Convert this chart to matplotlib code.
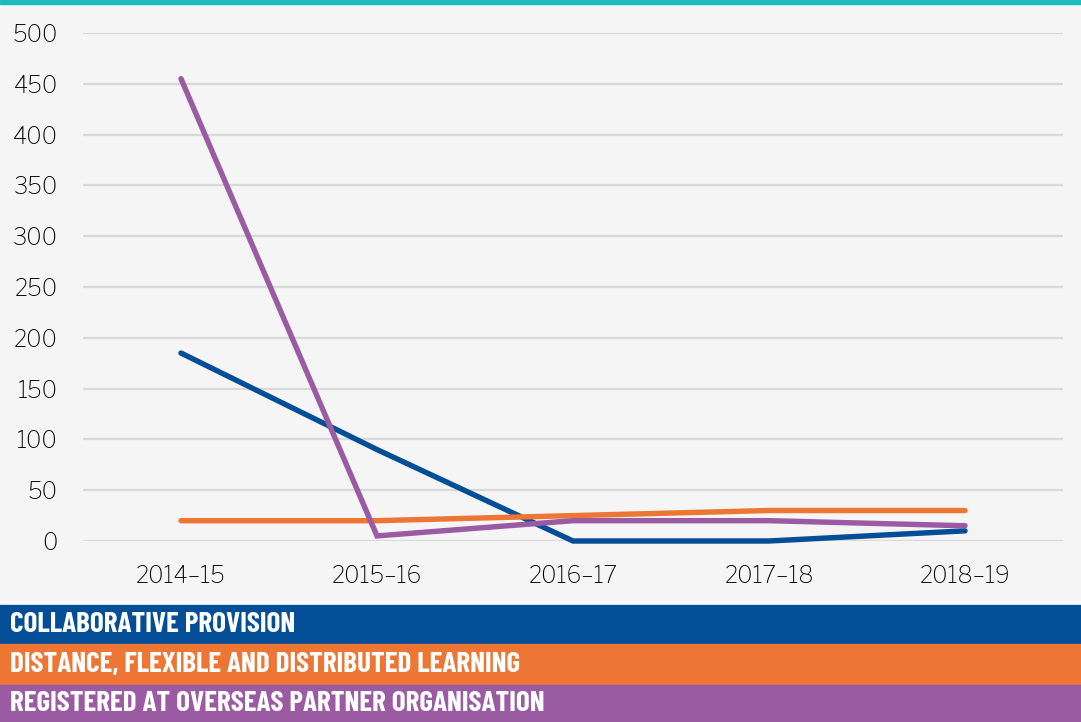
import matplotlib.pyplot as plt
from matplotlib.patches import Rectangle

years = ['2014–15', '2015–16', '2016–17', '2017–18', '2018–19']
collaborative = [185, 90, 0, 0, 10]
distance = [20, 20, 25, 30, 30]
overseas = [455, 5, 20, 20, 15]

series_names = ['COLLABORATIVE PROVISION',
                'DISTANCE, FLEXIBLE AND DISTRIBUTED LEARNING',
                'REGISTERED AT OVERSEAS PARTNER ORGANISATION']
colors = ['#034e96', '#ee7634', '#9b5ba3']

W, H = 1081, 722
fig = plt.figure(figsize=(W / 100, H / 100), dpi=100)
fig.patch.set_facecolor('white')

# background panels in pixel terms
def px_rect(x0, y0, x1, y1, color):
    fig.patches.append(Rectangle((x0 / W, 1 - y1 / H), (x1 - x0) / W, (y1 - y0) / H,
                                 transform=fig.transFigure, color=color, zorder=-5))

px_rect(0, 0, W, 600, '#f5f5f5')
px_rect(0, 0, W, 4, '#1bbcbc')

ax = fig.add_axes([83 / W, (H - 541) / H, 980 / W, 508 / H])
ax.set_zorder(2)
ax.set_facecolor('none')
x = [i + 0.5 for i in range(len(years))]
for vals, c in zip([collaborative, distance, overseas], colors):
    ax.plot(x, vals, color=c, lw=3.9, solid_capstyle='round', solid_joinstyle='miter',
            clip_on=False, zorder=3)

ax.set_xlim(0, 5)
ax.set_ylim(0, 500)
ax.set_yticks(range(0, 501, 50))
ax.set_xticks(x)
ax.set_xticklabels(years)
ax.grid(axis='y', color='#d9d9d9', lw=1.6)
ax.set_axisbelow(True)
for s in ax.spines.values():
    s.set_visible(False)
ax.tick_params(length=0, labelsize=16.5, labelcolor='black')
ax.tick_params(axis='y', pad=18)
ax.tick_params(axis='x', pad=17)
for lab in ax.get_xticklabels() + ax.get_yticklabels():
    lab.set_family(['Libre Franklin', 'Liberation Sans', 'DejaVu Sans'])
    lab.set_fontweight(600)

# legend bands
bands = [(605, 644), (644, 685), (685, 722)]
for (y0, y1), c, name in zip(bands, colors, series_names):
    px_rect(0, y0, W, y1, c)
    fig.text(10 / W, 1 - (y0 + y1) / 2 / H, name, color='white', fontsize=21,
             fontweight=700, va='center', ha='left', zorder=3,
             family=['Barlow Condensed', 'DejaVu Sans'])

fig.savefig('out.png', dpi=100, facecolor=fig.get_facecolor())
